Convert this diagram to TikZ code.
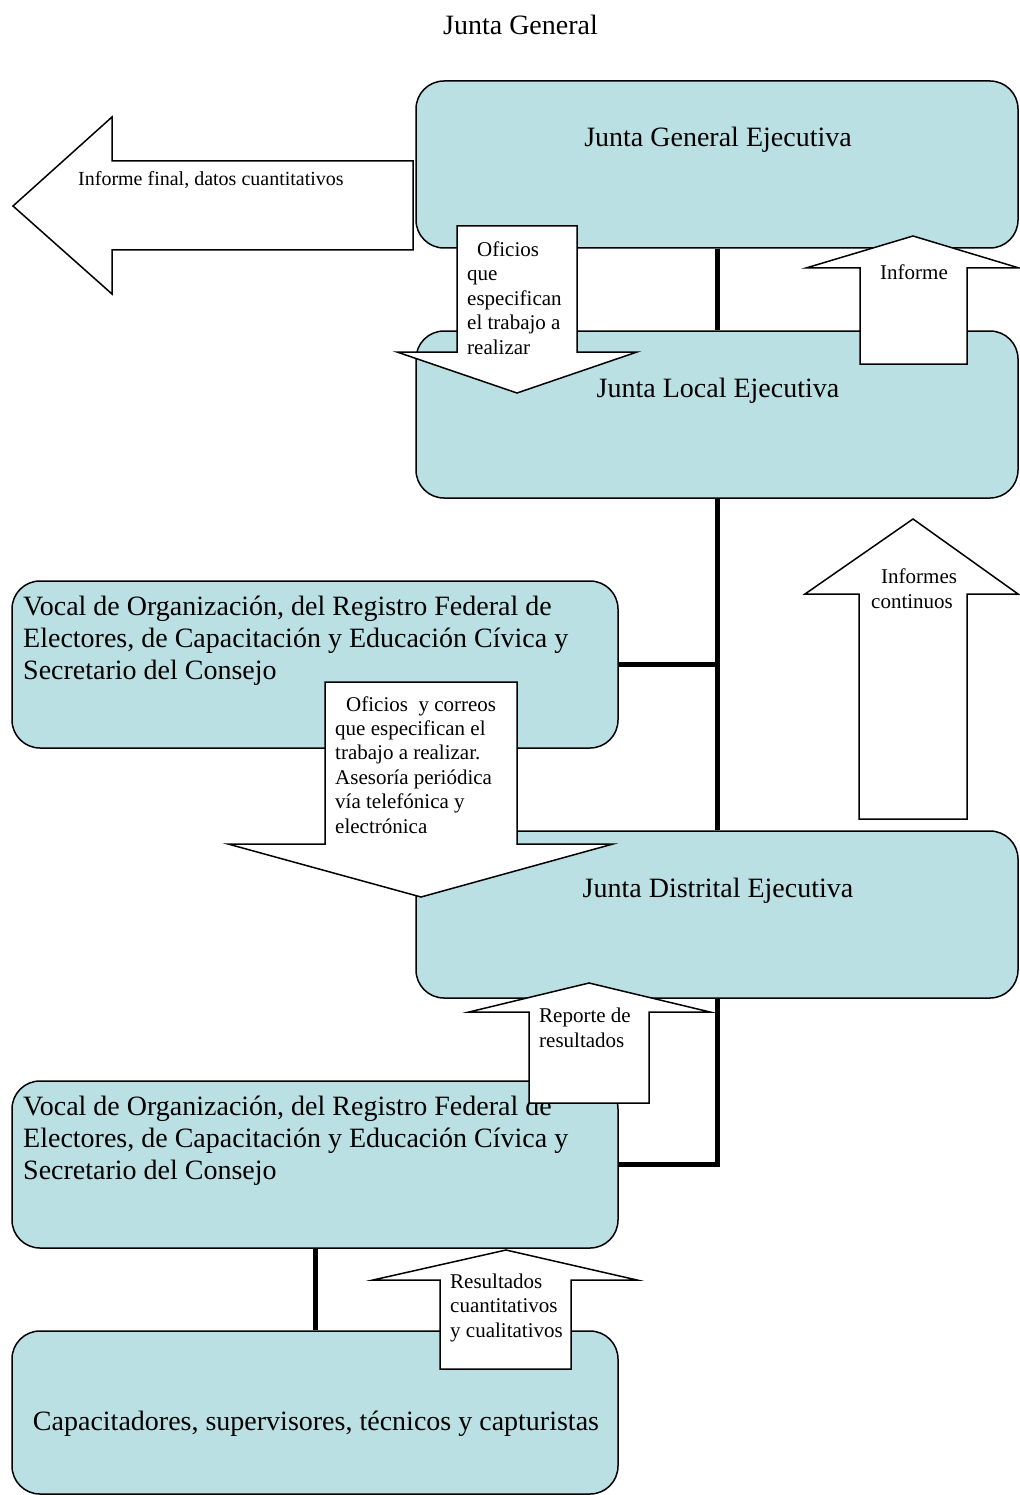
\documentclass[tikz,border=0pt]{standalone}
\usepackage{fontspec}
\setmainfont{Liberation Serif}
\definecolor{boxfill}{RGB}{186,224,228}
\begin{document}
\begin{tikzpicture}[x=1pt,y=-1pt,
  box/.style={draw, line width=1.5pt, rounded corners=28pt, fill=boxfill, inner sep=0pt},
  link/.style={line width=5pt},
  blockarrow/.style={draw, fill=white, line width=1.5pt, line join=miter},
  small/.style={font=\fontsize{21}{24.4}\selectfont, inner sep=0pt, align=left},
  big/.style={font=\fontsize{28}{32}\selectfont, inner sep=0pt, align=left}]
\useasboundingbox (0,0) rectangle (1019,1495);
% boxes
\node[box, minimum width=602pt, minimum height=167pt] (jge) at (717,164.5) {};
\node[box, minimum width=602pt, minimum height=167pt] (jle) at (717,414.5) {};
\node[box, minimum width=606pt, minimum height=167pt] (v1) at (315,664.5) {};
\node[box, minimum width=602pt, minimum height=167pt] (jde) at (717,914.5) {};
\node[box, minimum width=606pt, minimum height=167pt] (v2) at (315,1164.5) {};
\node[box, minimum width=606pt, minimum height=163pt] (cap) at (315,1412.5) {};
% links
\draw[link] (jge.south) -- (jle.north);
\draw[link] (jle.south) -- (jde.north);
\draw[link] (v1.east) -- (v1.east -| jle.south);
\draw[link] (jde.south) |- (v2.east);
\draw[link] (v2.south) -- (cap.north);
% title and box texts (base anchor = baseline of the last line)
\node[big, anchor=base] (title) at (520.5,35) {Junta General};
\node[big, anchor=base] (jget) at (718,147) {Junta General Ejecutiva};
\node[big, anchor=base] (jlet) at (718,397) {Junta Local Ejecutiva};
\node[big, anchor=base] (jdet) at (718,897) {Junta Distrital Ejecutiva};
\node[big, anchor=base west] (v1t) at (23,679) {Vocal de Organización, del Registro Federal de\\Electores, de Capacitación y Educación Cívica y\\Secretario del Consejo};
\node[big, anchor=base west] (v2t) at (23,1179) {Vocal de Organización, del Registro Federal de\\Electores, de Capacitación y Educación Cívica y\\Secretario del Consejo};
\node[big, anchor=base] (capt) at (316,1430) {Capacitadores, supervisores, técnicos y capturistas};
% block arrows
\path[blockarrow] (413,161) -- (112,161) -- (112,117) -- (13,206) -- (112,294) -- (112,250) -- (413,250) -- cycle;
\node[small, anchor=base west, font=\fontsize{20}{24}\selectfont] (aft) at (78,186) {Informe final, datos cuantitativos};
\path[blockarrow] (457,226) -- (577,226) -- (577,352) -- (637,352) -- (517,393) -- (397,352) -- (457,352) -- cycle;
\node[small, anchor=base west] (a2t) at (467,354) {\hspace*{10pt}Oficios\\que\\especifican\\el trabajo a\\realizar};
\path[blockarrow] (860,364) -- (860,268) -- (806,268) -- (913,236) -- (1019,268) -- (967,268) -- (967,364) -- cycle;
\node[small, anchor=base] (a3t) at (914,280) {Informe};
\path[blockarrow] (859,819) -- (859,594) -- (805,594) -- (913,519) -- (1018,594) -- (967,594) -- (967,819) -- cycle;
\node[small, anchor=base west] (a4t) at (871,608) {\hspace*{10pt}Informes\\continuos};
\path[blockarrow] (325,682) -- (517,682) -- (517,844) -- (613,844) -- (421,897) -- (228,844) -- (325,844) -- cycle;
\node[small, anchor=base west] (a5t) at (335,833) {\hspace*{11pt}Oficios\ \ y correos\\que especifican el\\trabajo a realizar.\\Asesoría periódica\\vía telefónica y\\electrónica};
\path[blockarrow] (529,1103) -- (529,1012) -- (469,1012) -- (589,983) -- (710,1012) -- (649,1012) -- (649,1103) -- cycle;
\node[small, anchor=base west] (a6t) at (539,1047) {Reporte de\\resultados};
\path[blockarrow] (440,1369) -- (440,1280) -- (373,1280) -- (506,1250) -- (637,1280) -- (571,1280) -- (571,1369) -- cycle;
\node[small, anchor=base west] (a7t) at (450,1337) {Resultados\\cuantitativos\\y cualitativos};
\end{tikzpicture}
\end{document}
